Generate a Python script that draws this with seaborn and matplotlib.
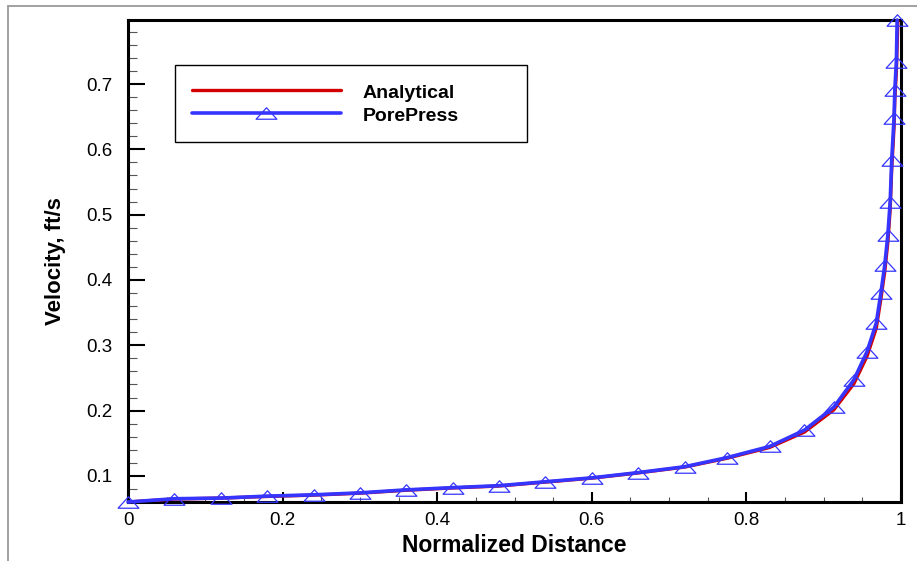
import matplotlib
matplotlib.use("Agg")
import matplotlib.pyplot as plt
from matplotlib.path import Path
from matplotlib.lines import Line2D
from matplotlib.ticker import MultipleLocator, FuncFormatter
import pandas as pd
import seaborn as sns

# Normalized distance and velocity (ft/s) along the flow path
x_porepress = [0.0, 0.06, 0.12, 0.18, 0.24, 0.30, 0.36, 0.42, 0.48, 0.54, 0.60,
               0.66, 0.72, 0.775, 0.83, 0.875, 0.913, 0.939, 0.956, 0.968, 0.974,
               0.979, 0.983, 0.986, 0.988, 0.991, 0.992, 0.994, 0.995]
v_porepress = [0.060, 0.065, 0.066, 0.069, 0.071, 0.074, 0.0786, 0.082, 0.085, 0.091,
               0.097, 0.105, 0.114, 0.128, 0.145, 0.170, 0.205, 0.247, 0.290, 0.334,
               0.380, 0.423, 0.469, 0.520, 0.584, 0.648, 0.691, 0.734, 0.798]

x_analytical = [0.0, 0.06, 0.12, 0.18, 0.24, 0.30, 0.36, 0.42, 0.48, 0.54, 0.60,
                0.66, 0.72, 0.775, 0.83, 0.875, 0.913, 0.939, 0.956, 0.968, 0.974,
                0.979, 0.983, 0.986, 0.988, 0.991, 0.992, 0.994, 0.996]
v_analytical = [0.060, 0.0645, 0.066, 0.0685, 0.0705, 0.0735, 0.078, 0.0815, 0.0845, 0.0905,
                0.0965, 0.1045, 0.1135, 0.127, 0.1435, 0.167, 0.201, 0.241, 0.283, 0.326,
                0.371, 0.413, 0.458, 0.508, 0.570, 0.634, 0.676, 0.719, 0.798]

series_labels = ["Analytical", "PorePress"]
x_label = "Normalized Distance"
y_label = "Velocity, ft/s"

sns.set_theme(style="white")
plt.rcParams["font.family"] = ["Liberation Sans", "DejaVu Sans"]
plt.rcParams.update({"text.color": "black", "axes.labelcolor": "black",
                     "xtick.color": "black", "ytick.color": "black"})

W, H = 917, 561
fig = plt.figure(figsize=(W / 100, H / 100), dpi=100)
fig.patch.set_facecolor("white")
ax = fig.add_axes([128 / W, 1 - 502 / H, 773 / W, 482 / H])

# open, slightly flattened triangle marker
tri = Path([(-1, -0.55), (1, -0.55), (0, 0.55), (-1, -0.55)],
           [Path.MOVETO, Path.LINETO, Path.LINETO, Path.CLOSEPOLY])

df_a = pd.DataFrame({"x": x_analytical, "v": v_analytical})
df_p = pd.DataFrame({"x": x_porepress, "v": v_porepress})

sns.lineplot(data=df_a, x="x", y="v", ax=ax, sort=False, color="#d40000",
             linewidth=2.4, label=series_labels[0], zorder=3)
sns.lineplot(data=df_p, x="x", y="v", ax=ax, sort=False, color="#3535ff",
             linewidth=2.6, marker=tri, markersize=15, markerfacecolor="none",
             markeredgecolor="#3535ff", markeredgewidth=0.9,
             label=series_labels[1], zorder=4, clip_on=False)

ax.set_xlim(0, 1)
ax.set_ylim(0.06, 0.798)

ax.xaxis.set_major_locator(MultipleLocator(0.2))
ax.xaxis.set_minor_locator(MultipleLocator(0.05))
ax.yaxis.set_major_locator(MultipleLocator(0.1))
ax.yaxis.set_minor_locator(MultipleLocator(0.02))
fmt = FuncFormatter(lambda v, p: f"{v:g}")
ax.xaxis.set_major_formatter(fmt)
ax.yaxis.set_major_formatter(fmt)

for s in ax.spines.values():
    s.set_visible(True)
    s.set_color("black")
    s.set_linewidth(2.2)

ax.tick_params(axis="y", which="major", direction="in", left=True, length=12,
               width=1.5, color="black", labelsize=13.5, pad=11)
ax.tick_params(axis="y", which="minor", direction="in", left=True, length=6.5,
               width=0.8, color="#555555")
ax.tick_params(axis="x", which="major", direction="in", bottom=True, length=7.5,
               width=1.5, color="black", labelsize=13.5, pad=7)
ax.tick_params(axis="x", which="minor", direction="in", bottom=True, length=3.8,
               width=0.8, color="#555555")

ax.set_xlabel(x_label, fontsize=16.5, fontweight="bold", labelpad=4)
ax.set_ylabel(y_label, fontsize=16, fontweight="bold", labelpad=15)

handles, labels = ax.get_legend_handles_labels()
lw_ax, lh_ax = (527 - 175) / 773, (144 - 65) / 482
top_ax = (502 - 65) / 482
leg = ax.legend(handles, labels, loc="upper left",
                bbox_to_anchor=((175 - 128) / 773, top_ax - lh_ax, lw_ax, lh_ax),
                mode="expand", borderaxespad=0, frameon=True, fancybox=False,
                edgecolor="black", framealpha=1, facecolor="white",
                prop={"weight": "bold", "size": 14}, handlelength=7.7,
                handleheight=1.2, handletextpad=1.1, borderpad=0.85,
                labelspacing=0.14)
leg.get_frame().set_linewidth(1.0)

# outer page frame
fig.add_artist(Line2D([8 / W, 1], [1 - 6 / H, 1 - 6 / H], transform=fig.transFigure,
                      color="#9a9a9a", linewidth=1.3))
fig.add_artist(Line2D([8 / W, 8 / W], [0, 1 - 6 / H], transform=fig.transFigure,
                      color="#9a9a9a", linewidth=1.3))

fig.savefig("out.png", dpi=100, facecolor="white")
